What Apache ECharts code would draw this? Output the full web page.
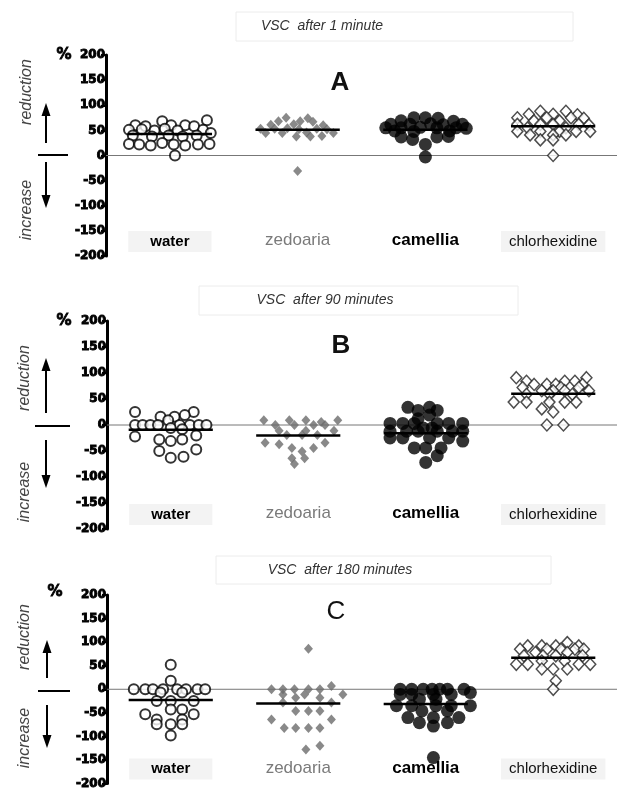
<!DOCTYPE html>
<html><head><meta charset="utf-8">
<script src="https://cdn.jsdelivr.net/npm/echarts@6/dist/echarts.min.js"></script>
<style>html,body{margin:0;padding:0;background:#fff}#c{width:617px;height:790px}</style>
</head><body><div id="c"></div>
<script>
// ---------- DATA ----------
const categories = ['water', 'zedoaria', 'camellia', 'chlorhexidine'];
const yTicks = [-200, -150, -100, -50, 0, 50, 100, 150, 200];
const panelTitles = ['VSC  after 1 minute', 'VSC  after 90 minutes', 'VSC  after 180 minutes'];
const panelLetters = ['A', 'B', 'C'];

// each point: [horizontal jitter offset within the group, % value]
const A_water = [[-0.06,68],[0.29,70],[-0.27,60],[-0.19,58],[0.01,60],[0.12,60],[0.19,58],[-0.32,51],[-0.22,52],[-0.12,50],[-0.04,53],[0.06,50],[0.26,51],[0.32,45],[-0.29,40],[-0.14,38],[-0.01,40],[0.10,38],[0.21,40],[-0.32,23],[-0.24,22],[-0.15,20],[-0.06,25],[0.03,22],[0.12,20],[0.22,22],[0.31,23],[0.04,0]];
const A_zedoaria = [[-0.09,75],[0.08,74],[-0.15,68],[0.02,68],[0.12,67],[-0.21,61],[-0.03,62],[0.2,60],[-0.29,53],[-0.18,53],[-0.08,54],[0.01,52],[0.15,53],[0.23,52],[-0.25,45],[-0.12,45],[0.07,46],[0.28,45],[-0.01,38],[0.1,38],[0.19,39],[0,-31]];
const A_camellia = [[-0.09,75],[0,75],[0.1,74],[-0.19,69],[0.22,68],[-0.27,62],[-0.12,62],[0.04,63],[0.14,61],[0.29,62],[-0.31,55],[-0.19,55],[-0.04,56],[0.09,55],[0.24,55],[0.32,54],[-0.24,49],[-0.09,48],[0.19,49],[-0.19,37],[0.09,37],[0.18,38],[-0.1,32],[0,22],[0,-3]];
const A_chlorhexidine = [[-0.1,88],[0.1,88],[-0.19,82],[0,82],[0.19,81],[-0.28,75],[-0.05,75],[0.14,75],[0.24,74],[-0.15,69],[0.05,69],[-0.28,62],[-0.1,62],[0,62],[0.2,62],[0.28,61],[-0.2,55],[0.1,55],[-0.28,48],[-0.1,48],[0.05,48],[0.18,48],[0.29,48],[-0.18,41],[0,41],[0.1,41],[-0.1,31],[0,31],[0,0]];
const A_means = [43, 51, 51, 58];

const B_water = [[-0.28,25],[-0.08,16],[0.03,16],[0.18,25],[-0.02,9],[0.11,19],[-0.28,0],[-0.22,0],[-0.16,0],[-0.10,0],[0.07,0],[0.15,0],[0.22,0],[0.28,0],[0.0,-6],[0.09,-8],[-0.28,-22],[0.2,-20],[-0.09,-28],[0.09,-28],[0.0,-31],[0.2,-47],[-0.09,-50],[0.0,-63],[0.1,-61]];
const B_zedoaria = [[-0.27,9],[-0.07,9],[0.06,9],[0.31,9],[0.18,6],[-0.18,0],[-0.03,0],[0.12,0],[0.21,0],[-0.15,-11],[0.06,-11],[0.28,-11],[-0.09,-19],[0.03,-19],[0.15,-19],[-0.26,-34],[0.21,-34],[-0.15,-37],[-0.05,-44],[0.12,-44],[0.03,-51],[-0.05,-64],[0.05,-64],[-0.03,-75]];
const B_camellia = [[-0.14,34],[0.03,34],[-0.06,28],[0.09,28],[0.03,19],[-0.06,12],[-0.28,3],[-0.18,3],[-0.09,3],[0.09,3],[0.18,3],[0.29,3],[-0.02,-6],[0.05,-6],[-0.28,-12],[-0.15,-12],[-0.06,-12],[0.09,-12],[0.21,-12],[0.29,-12],[-0.28,-25],[-0.18,-25],[0.03,-25],[0.18,-25],[0.29,-31],[-0.09,-44],[0,-44],[0.12,-44],[0.09,-59],[0,-72]];
const B_chlorhexidine = [[-0.29,91],[0.26,91],[-0.21,84],[0.09,84],[0.17,84],[-0.15,78],[-0.05,78],[0.02,78],[0.23,78],[-0.24,72],[0.06,72],[0.2,72],[-0.09,66],[0,66],[0.09,66],[0.28,66],[-0.21,59],[-0.03,59],[0.15,59],[-0.31,44],[-0.21,44],[-0.03,44],[0.09,44],[0.18,44],[-0.09,31],[0,25],[-0.05,0],[0.08,0]];
const B_means = [-9, -20, -16, 60];

const C_water = [[0,52],[0,18],[-0.29,0],[-0.2,0],[-0.14,0],[-0.06,0],[0.05,0],[0.12,0],[0.21,0],[0.27,0],[-0.08,-7],[0.09,-7],[-0.11,-25],[0,-25],[0.18,-25],[0,-43],[0.09,-43],[-0.2,-53],[0.18,-53],[-0.11,-64],[0.09,-64],[-0.11,-74],[0,-74],[0.09,-74],[0,-98]];
const C_zedoaria = [[0.08,86],[-0.21,0],[-0.12,0],[-0.03,0],[0.08,0],[0.17,0],[0.26,7],[-0.12,-11],[0.05,-11],[0.35,-11],[-0.02,-18],[0.17,-18],[-0.12,-28],[0.26,-28],[-0.02,-46],[0.08,-46],[0.17,-46],[-0.21,-64],[0.26,-64],[-0.11,-82],[-0.02,-82],[0.08,-82],[0.17,-82],[0.17,-120],[0.06,-128]];
const C_camellia = [[-0.2,0],[-0.11,0],[-0.02,0],[0.05,0],[0.11,0],[0.17,0],[0.3,0],[0.35,-7],[-0.2,-11],[-0.11,-11],[0.06,-11],[0.2,-11],[-0.05,-21],[0.08,-21],[-0.23,-35],[-0.11,-35],[0.08,-35],[0.2,-35],[0.35,-35],[-0.03,-46],[0.17,-46],[-0.14,-60],[0.06,-60],[0.26,-60],[-0.05,-71],[0.17,-71],[0.06,-78],[0.06,-145]];
const C_chlorhexidine = [[0.11,99],[-0.2,92],[-0.09,92],[0.02,92],[0.2,92],[-0.26,85],[-0.05,85],[0.06,85],[0.17,85],[0.24,85],[-0.14,78],[0.11,78],[-0.23,71],[-0.08,71],[0.02,71],[0.23,71],[-0.09,60],[0.09,60],[-0.29,53],[-0.2,53],[0.2,53],[0.29,53],[-0.09,43],[0,43],[0.11,43],[0.02,18],[0,0]];
const C_means = [-23, -30, -31, 67];

// ---------- LAYOUT / STYLE ----------
const FONT = "'Liberation Sans', Arial, sans-serif";
const TICKFONT = "'DejaVu Sans', 'Liberation Sans', sans-serif";
const panels = [
  {grid:{left:106, top:55, width:512, height:201}, groups:[A_water,A_zedoaria,A_camellia,A_chlorhexidine], means:A_means,
   title:{x:322, y:26}, tbox:[236, 12, 337, 29], letter:{x:340, y:83, w:'bold'}, pct:{x:64, y:55},
   red:{x:27, y:92}, inc:{x:27, y:210}, up:[46,143,103], down:[46,162,208], hline:[38,68,155]},
  {grid:{left:107, top:321, width:511, height:208}, groups:[B_water,B_zedoaria,B_camellia,B_chlorhexidine], means:B_means,
   title:{x:325, y:300}, tbox:[199, 286, 319, 29], letter:{x:341, y:346, w:'bold'}, pct:{x:64, y:321},
   red:{x:25, y:378}, inc:{x:25, y:492}, up:[46,413,358], down:[46,440,488], hline:[35,70,426]},
  {grid:{left:107, top:595, width:511, height:189}, groups:[C_water,C_zedoaria,C_camellia,C_chlorhexidine], means:C_means,
   title:{x:340, y:570}, tbox:[216, 556, 335, 28], letter:{x:336, y:612, w:'normal'}, pct:{x:55, y:592},
   red:{x:25, y:637}, inc:{x:25, y:738}, up:[47,678,640], down:[47,705,748], hline:[38,70,691]}
];

const markerStyles = [
  {symbol:'circle', symbolSize:10, itemStyle:{color:'#fff', borderColor:'#000', borderWidth:2}},
  {symbol:'diamond', symbolSize:[9,10], itemStyle:{color:'#6c6c6c'}},
  {symbol:'circle', symbolSize:13, itemStyle:{color:'#000'}},
  {symbol:'diamond', symbolSize:[11,12], itemStyle:{color:'#fff', borderColor:'#222', borderWidth:1.5}}
];
const labelRich = {
  water:{fontFamily:FONT, fontWeight:'bold', fontSize:15, color:'#000', backgroundColor:'#f3f3f3', padding:[3,22]},
  zedoaria:{fontFamily:FONT, fontSize:17, color:'#7a7a7a', padding:[3,6]},
  camellia:{fontFamily:FONT, fontWeight:'bold', fontSize:17, color:'#000', padding:[3,6]},
  chlorhexidine:{fontFamily:FONT, fontSize:15, color:'#111', backgroundColor:'#f3f3f3', padding:[3,8]}
};

const grids = [], xAxes = [], yAxes = [], series = [], graphics = [];

function arrow(x, yTail, yHead) {
  const d = yHead < yTail ? -1 : 1;
  return [
    {type:'line', shape:{x1:x, y1:yTail, x2:x, y2:yHead - d*10}, style:{stroke:'#000', lineWidth:2}},
    {type:'polygon', shape:{points:[[x-4.5, yHead - d*13],[x+4.5, yHead - d*13],[x, yHead]]}, style:{fill:'#000'}}
  ];
}

panels.forEach((p, i) => {
  grids.push(p.grid);
  xAxes.push({type:'value', gridIndex:i, min:0.5, max:4.5, position:'top', show:false});
  xAxes.push({type:'category', gridIndex:i, data:categories, position:'bottom',
    axisLine:{show:false}, axisTick:{show:false}, splitLine:{show:false},
    axisLabel:{inside:true, margin:4, interval:0, formatter:v => '{' + v + '|' + v + '}', rich:labelRich}});
  yAxes.push({type:'value', gridIndex:i, min:yTicks[0], max:yTicks[yTicks.length-1], interval:50,
    axisLine:{show:true, lineStyle:{color:'#000', width:3}},
    axisTick:{show:true, length:5, lineStyle:{color:'#000', width:2}},
    axisLabel:{color:'#000', fontFamily:TICKFONT, fontWeight:'bold', fontSize:12, margin:1,
      textBorderColor:'#000', textBorderWidth:0.9},
    splitLine:{show:false}});
  const xi = i*2, yi = i;
  series.push({type:'line', xAxisIndex:xi, yAxisIndex:yi, data:[[0.5,0],[4.5,0]], symbol:'none',
    lineStyle:{color:'#777', width:1}, z:1, silent:true});
  p.groups.forEach((g, k) => {
    series.push(Object.assign({type:'scatter', xAxisIndex:xi, yAxisIndex:yi, z:3,
      data:g.map(pt => [k + 1 + pt[0], pt[1]])}, markerStyles[k]));
    series.push({type:'line', xAxisIndex:xi, yAxisIndex:yi, symbol:'none', z:4, silent:true,
      data:[[k + 1 - 0.33, p.means[k]], [k + 1 + 0.33, p.means[k]]],
      lineStyle:{color:'#000', width:2.5}});
  });
  graphics.push({type:'rect', shape:{x:p.tbox[0], y:p.tbox[1], width:p.tbox[2], height:p.tbox[3]},
    style:{fill:'none', stroke:'#ececec', lineWidth:1}, z:0});
  graphics.push({type:'text', x:p.title.x, y:p.title.y, style:{text:panelTitles[i], font:'italic 14px ' + FONT,
    fill:'#333', textAlign:'center', textVerticalAlign:'middle'}});
  graphics.push({type:'text', x:p.letter.x, y:p.letter.y, style:{text:panelLetters[i],
    font:p.letter.w + ' 26px ' + FONT, fill:'#111', textAlign:'center', textVerticalAlign:'middle'}});
  graphics.push({type:'text', x:p.pct.x, y:p.pct.y, style:{text:'%', font:'bold 15px ' + TICKFONT,
    fill:'#000', stroke:'#000', lineWidth:0.8, textAlign:'center', textVerticalAlign:'middle'}});
  graphics.push({type:'text', x:p.red.x, y:p.red.y, rotation:Math.PI/2, style:{text:'reduction',
    font:'italic 16px ' + FONT, fill:'#444', textAlign:'center', textVerticalAlign:'middle'}});
  graphics.push({type:'text', x:p.inc.x, y:p.inc.y, rotation:Math.PI/2, style:{text:'increase',
    font:'italic 16px ' + FONT, fill:'#444', textAlign:'center', textVerticalAlign:'middle'}});
  arrow(...p.up).forEach(e => graphics.push(e));
  arrow(...p.down).forEach(e => graphics.push(e));
  graphics.push({type:'line', shape:{x1:p.hline[0], y1:p.hline[2], x2:p.hline[1], y2:p.hline[2]},
    style:{stroke:'#000', lineWidth:2}});
});

const chart = echarts.init(document.getElementById('c'));
chart.setOption({
  backgroundColor:'#fff',
  animation:false,
  grid:grids, xAxis:xAxes, yAxis:yAxes, series:series, graphic:graphics
});
</script>
</body></html>
